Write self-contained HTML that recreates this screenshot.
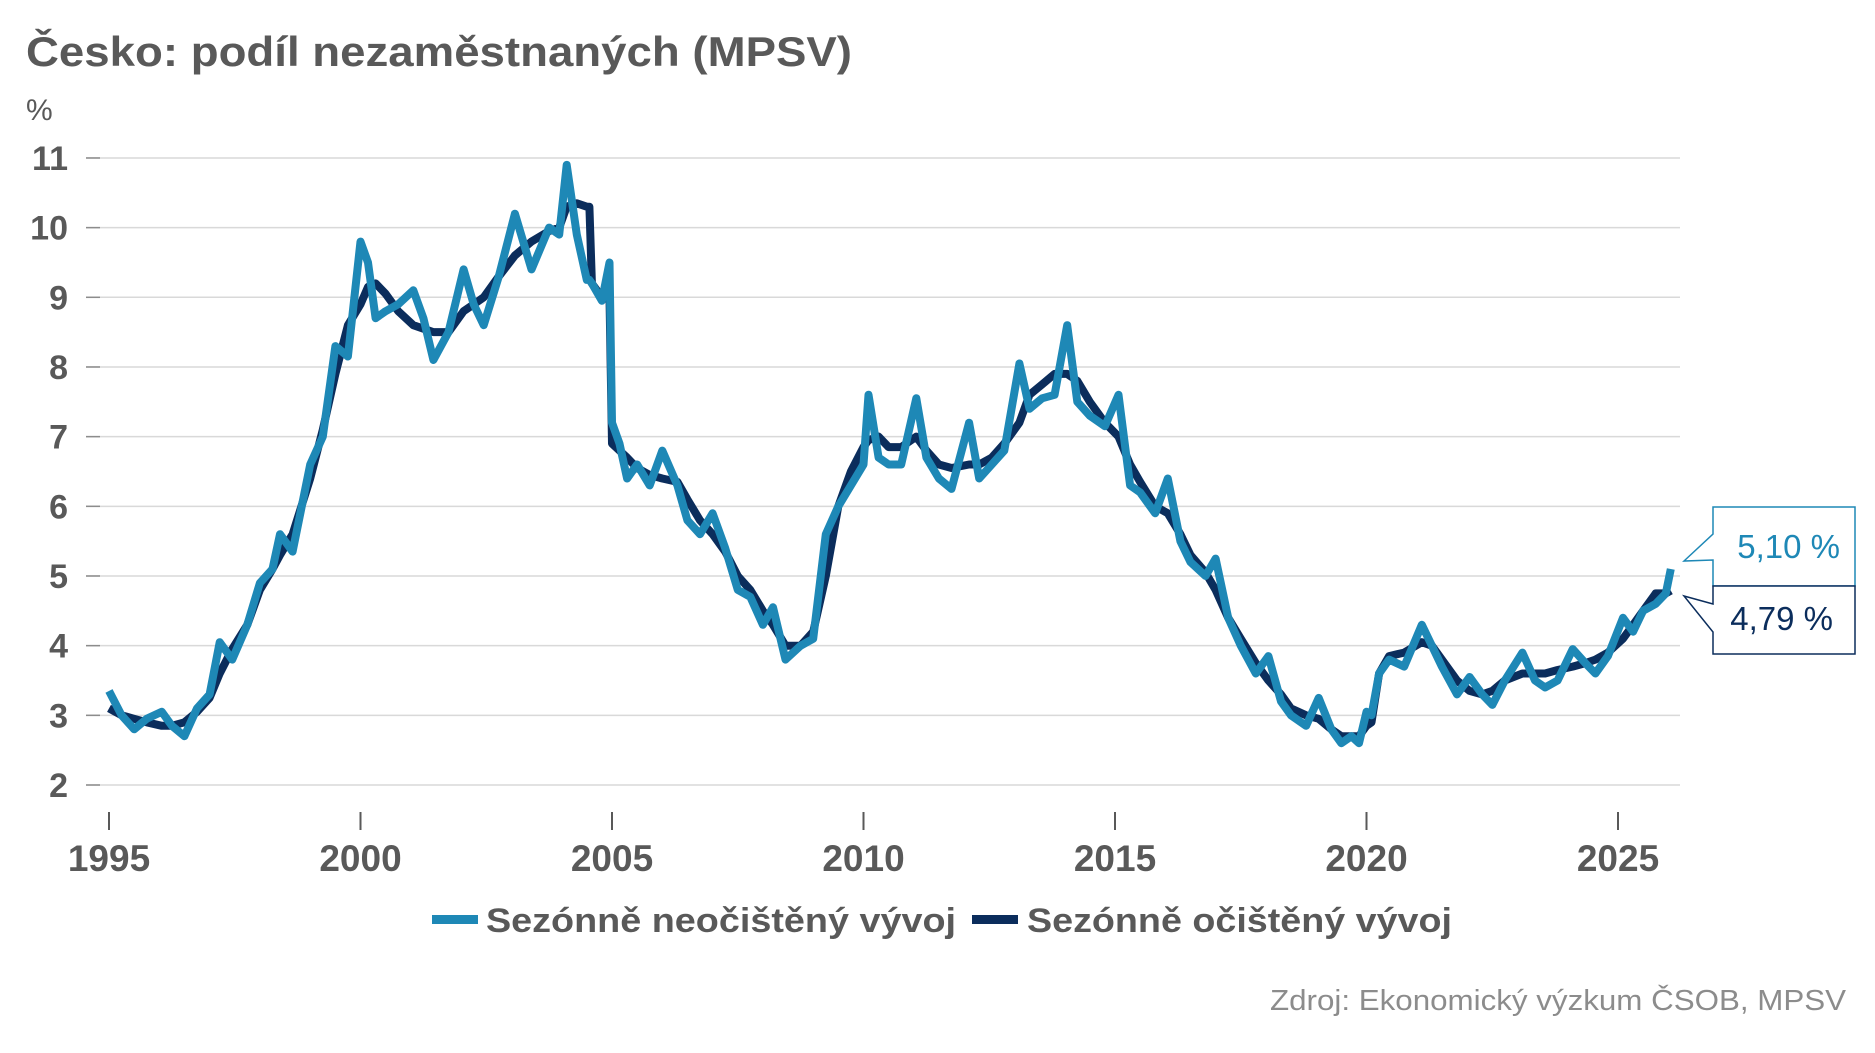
<!DOCTYPE html>
<html><head><meta charset="utf-8"><style>
html,body{margin:0;padding:0;background:#fff;}
svg{display:block;font-family:"Liberation Sans",sans-serif;}
</style></head><body>
<svg id="chart" width="1875" height="1053" viewBox="0 0 1875 1053" xmlns="http://www.w3.org/2000/svg">
<text x="26" y="66" font-size="42" font-weight="bold" fill="#595959" textLength="826" lengthAdjust="spacingAndGlyphs">Česko: podíl nezaměstnaných (MPSV)</text>
<text x="26" y="120" font-size="30" fill="#595959">%</text>
<g id="grid"></g><g id="yt"></g><g id="xt"></g><g id="lines"></g>
<g>
<g><rect x="432" y="915" width="46" height="9" fill="#1e88b6"/><text x="486" y="932" font-size="34" font-weight="bold" fill="#595959" textLength="470" lengthAdjust="spacingAndGlyphs">Sezónně neočištěný vývoj</text></g>
<g><rect x="972" y="915" width="46" height="9" fill="#0b2d5c"/><text x="1027" y="932" font-size="34" font-weight="bold" fill="#595959" textLength="425" lengthAdjust="spacingAndGlyphs">Sezónně očištěný vývoj</text></g>
</g>
<text x="1846" y="1010" font-size="29" fill="#8c8c8c" text-anchor="end" textLength="576" lengthAdjust="spacingAndGlyphs">Zdroj: Ekonomický výzkum ČSOB, MPSV</text>
<g>
<polygon points="1713,507 1855,507 1855,586 1713,586 1713,560 1684,561 1713,534" fill="#fff" stroke="#1e88b6" stroke-width="1.5"/>
<text x="1840" y="558" font-size="33" fill="#1e88b6" text-anchor="end">5,10 %</text></g>
<g>
<polygon points="1713,586 1855,586 1855,654 1713,654 1713,632 1684,596 1713,604" fill="#fff" stroke="#0b2d5c" stroke-width="1.5"/>
<text x="1833" y="630" font-size="33" fill="#0b2d5c" text-anchor="end">4,79 %</text></g>
</svg>
<script>
const dates=[1995.0,1995.25,1995.5,1995.75,1996.05,1996.25,1996.5,1996.75,1997.0,1997.2,1997.45,1997.75,1998.0,1998.25,1998.4,1998.65,1999.0,1999.25,1999.5,1999.75,2000.0,2000.15,2000.3,2000.5,2000.75,2001.05,2001.25,2001.45,2001.75,2002.05,2002.25,2002.45,2002.75,2003.07,2003.4,2003.75,2003.95,2004.1,2004.3,2004.5,2004.55,2004.6,2004.8,2004.95,2005.0,2005.15,2005.3,2005.5,2005.75,2006.0,2006.3,2006.5,2006.75,2007.0,2007.25,2007.5,2007.75,2008.0,2008.2,2008.45,2008.75,2009.0,2009.25,2009.5,2009.75,2010.0,2010.1,2010.3,2010.5,2010.75,2011.05,2011.25,2011.5,2011.75,2012.1,2012.3,2012.55,2012.8,2013.1,2013.3,2013.55,2013.8,2014.05,2014.25,2014.5,2014.8,2015.07,2015.3,2015.5,2015.8,2016.05,2016.3,2016.5,2016.8,2017.0,2017.25,2017.5,2017.8,2018.05,2018.3,2018.5,2018.8,2019.05,2019.3,2019.5,2019.7,2019.85,2020.0,2020.1,2020.25,2020.45,2020.75,2021.1,2021.3,2021.5,2021.8,2022.05,2022.3,2022.5,2022.75,2023.1,2023.35,2023.55,2023.8,2024.1,2024.35,2024.55,2024.8,2025.1,2025.3,2025.5,2025.75,2025.95,2026.05];
const nsaValues=[3.35,3.0,2.8,2.95,3.05,2.85,2.7,3.1,3.3,4.05,3.8,4.3,4.9,5.1,5.6,5.35,6.6,7.0,8.3,8.15,9.8,9.5,8.7,8.8,8.9,9.1,8.7,8.1,8.5,9.4,8.9,8.6,9.3,10.2,9.4,10.0,9.9,10.9,9.9,9.25,9.25,9.2,8.95,9.5,7.2,6.9,6.4,6.6,6.3,6.8,6.3,5.8,5.6,5.9,5.4,4.8,4.7,4.3,4.55,3.8,4.0,4.1,5.6,6.0,6.3,6.6,7.6,6.7,6.6,6.6,7.55,6.7,6.4,6.25,7.2,6.4,6.6,6.8,8.05,7.4,7.55,7.6,8.6,7.5,7.3,7.15,7.6,6.3,6.2,5.9,6.4,5.5,5.2,5.0,5.25,4.4,4.0,3.6,3.85,3.2,3.0,2.85,3.25,2.8,2.6,2.7,2.6,3.05,3.0,3.6,3.8,3.7,4.3,4.0,3.7,3.3,3.55,3.3,3.15,3.5,3.9,3.5,3.4,3.5,3.95,3.75,3.6,3.85,4.4,4.2,4.5,4.6,4.75,5.10];
const saValues=[3.1,3.0,2.95,2.9,2.85,2.85,2.9,3.05,3.25,3.6,3.95,4.3,4.8,5.1,5.3,5.6,6.4,7.1,7.9,8.6,8.9,9.15,9.2,9.05,8.8,8.6,8.55,8.5,8.5,8.8,8.9,9.0,9.3,9.6,9.8,9.95,10.0,10.3,10.35,10.3,10.3,9.2,9.0,9.0,6.9,6.8,6.7,6.55,6.45,6.4,6.35,6.1,5.8,5.6,5.35,5.0,4.8,4.5,4.3,4.0,4.0,4.2,5.0,6.0,6.5,6.85,6.95,7.0,6.85,6.85,7.0,6.8,6.6,6.55,6.6,6.6,6.7,6.9,7.2,7.6,7.75,7.9,7.9,7.8,7.5,7.2,7.0,6.6,6.35,6.0,5.9,5.6,5.3,5.05,4.8,4.4,4.1,3.75,3.5,3.3,3.1,3.0,2.95,2.8,2.7,2.7,2.7,2.85,2.9,3.6,3.85,3.9,4.05,4.0,3.8,3.5,3.35,3.3,3.35,3.5,3.6,3.6,3.6,3.65,3.7,3.75,3.8,3.9,4.1,4.3,4.5,4.75,4.75,4.79];
const yTicks=[2,3,4,5,6,7,8,9,10,11];
const xTicks=[1995,2000,2005,2010,2015,2020,2025];
const NS="http://www.w3.org/2000/svg";
const X=t=>109+(t-1995)*50.3;
const Y=v=>785-(v-2)*69.67;
function el(tag,attrs,parent){const e=document.createElementNS(NS,tag);for(const k in attrs)e.setAttribute(k,attrs[k]);parent.appendChild(e);return e;}
const grid=document.getElementById('grid'),yt=document.getElementById('yt'),xt=document.getElementById('xt'),lines=document.getElementById('lines');
yTicks.forEach(v=>{
  const g=el('line',{x1:86,x2:1680,y1:Y(v),y2:Y(v),stroke:'#d9d9d9','stroke-width':1.5},grid);
  
  
  el('line',{x1:86,x2:100,y1:Y(v),y2:Y(v),stroke:'#8c8c8c','stroke-width':1.5},grid);
  const t=el('text',{x:68,y:Y(v)+12,'font-size':34,'font-weight':'bold',fill:'#595959','text-anchor':'end'},yt);
  t.textContent=v;
  
  
});
xTicks.forEach(yr=>{
  el('line',{x1:X(yr),x2:X(yr),y1:812,y2:830,stroke:'#595959','stroke-width':2},xt);
  const t=el('text',{x:X(yr),y:871,'font-size':37,'font-weight':'bold',fill:'#595959','text-anchor':'middle'},xt);
  t.textContent=yr;
  
  
});
function path(vals,color,name){
  const d=vals.map((v,i)=>(i?'L':'M')+X(dates[i]).toFixed(1)+','+Y(v).toFixed(1)).join(' ');
  const p=el('path',{d:d,fill:'none',stroke:color,'stroke-width':8,'stroke-linejoin':'round'},lines);
  
  
}
path(saValues,'#0b2d5c','line-seasonally-adjusted');
path(nsaValues,'#1e88b6','line-not-seasonally-adjusted');
</script>
</body></html>
